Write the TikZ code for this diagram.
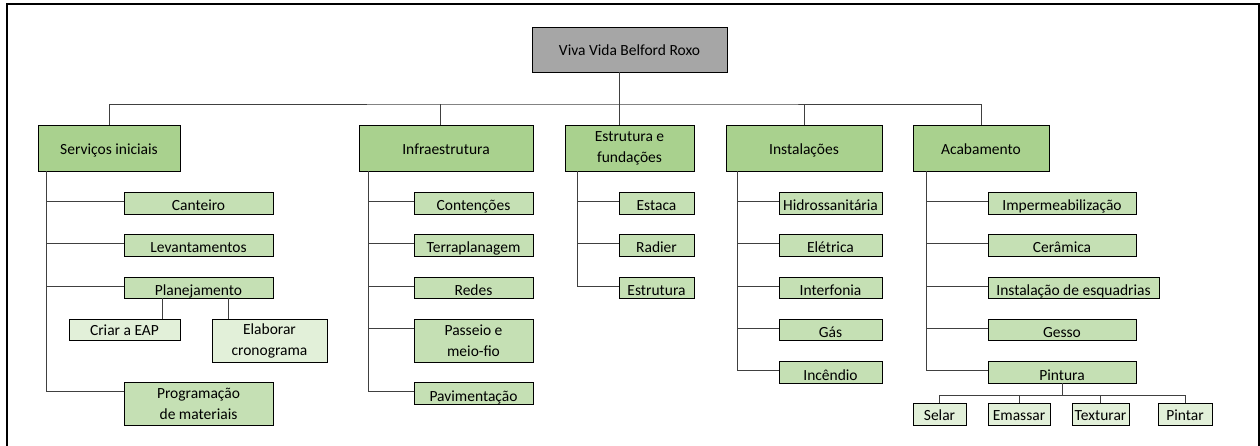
\documentclass[tikz,border=0pt]{standalone}
\usepackage{fontspec}
\setmainfont{Carlito}
\usepackage{tikz}
\usetikzlibrary{positioning}
\usetikzlibrary{calc}
\definecolor{rootgray}{HTML}{A6A6A6}
\definecolor{phasegreen}{HTML}{A9D18E}
\definecolor{taskgreen}{HTML}{C5E0B4}
\definecolor{subgreen}{HTML}{E2F0D9}
\definecolor{linkgray}{HTML}{404040}
\tikzset{box/.style={rectangle, draw, line width=0.8pt, inner sep=1pt, align=center, font=\fontsize{15.5}{21}\selectfont}}
\tikzset{rootbox/.style={box, fill=rootgray, minimum width=195pt, minimum height=45pt, text height=13pt, text depth=0pt}}
\tikzset{phasebox/.style={box, fill=phasegreen, minimum height=46pt}}
\tikzset{taskbox/.style={box, fill=taskgreen, minimum height=22pt}}
\tikzset{subbox/.style={box, fill=subgreen, minimum height=21pt}}
\tikzset{oneline/.style={text height=#1, text depth=0pt}}
\tikzset{linkline/.style={draw=linkgray, line width=0.8pt}}

\begin{document}
\begin{tikzpicture}[x=1pt, y=-1pt]
    \useasboundingbox (0,0) rectangle (1260,446);
    \draw[line width=2pt] (7,446) -- (7,4.3) -- (1258.8,4.3) -- (1258.8,446);

    % root and phases
    \node [rootbox] (vivaVida) at (629.5,49.5) {Viva Vida Belford Roxo};
    \node [phasebox, oneline=14pt, minimum width=142pt] (servicos) at (109,148) {Serviços iniciais};
    \node [phasebox, oneline=14pt, minimum width=174pt] (infra) at (446,148) {Infraestrutura};
    \node [phasebox, minimum width=129pt] (estruturaFund) at (629.5,148) {Estrutura e\\fundações};
    \node [phasebox, oneline=14pt, minimum width=156pt] (instalacoes) at (804,148) {Instalações};
    \node [phasebox, oneline=14pt, minimum width=136pt] (acabamento) at (981,148) {Acabamento};

    % servicos iniciais
    \node [taskbox, oneline=16pt, minimum width=149pt] (canteiro) at (198.5,203) {Canteiro};
    \node [taskbox, oneline=16pt, minimum width=149pt] (levantamentos) at (198.5,245) {Levantamentos};
    \node [taskbox, oneline=16pt, minimum width=149pt, minimum height=21pt] (planejamento) at (198.5,287.5) {Planejamento};
    \node [subbox, oneline=12pt, minimum width=111pt] (criarEap) at (124.5,329.5) {Criar a EAP};
    \node [subbox, minimum width=115pt, minimum height=43pt] (cronograma) at (269.5,340.5) {Elaborar\\cronograma};
    \node [taskbox, minimum width=149pt, minimum height=43pt] (programacao) at (198.5,403.5) {Programação\\de materiais};

    % infraestrutura
    \node [taskbox, oneline=16pt, minimum width=119pt] (contencoes) at (473.5,203) {Contenções};
    \node [taskbox, oneline=16pt, minimum width=119pt] (terraplanagem) at (473.5,245) {Terraplanagem};
    \node [taskbox, oneline=16pt, minimum width=119pt, minimum height=21pt] (redes) at (473.5,287.5) {Redes};
    \node [taskbox, minimum width=119pt, minimum height=43pt] (passeio) at (473.5,340.5) {Passeio e\\meio-fio};
    \node [taskbox, oneline=16pt, minimum width=119pt] (pavimentacao) at (473.5,393) {Pavimentação};

    % estrutura e fundacoes
    \node [taskbox, oneline=16pt, minimum width=75pt] (estaca) at (656.5,203) {Estaca};
    \node [taskbox, oneline=16pt, minimum width=75pt] (radier) at (656.5,245) {Radier};
    \node [taskbox, oneline=16pt, minimum width=75pt, minimum height=21pt] (estrutura) at (656.5,287.5) {Estrutura};

    % instalacoes
    \node [taskbox, oneline=16pt, minimum width=103pt] (hidro) at (830.5,203) {Hidrossanitária};
    \node [taskbox, oneline=16pt, minimum width=103pt] (eletrica) at (830.5,245) {Elétrica};
    \node [taskbox, oneline=16pt, minimum width=103pt, minimum height=21pt] (interfonia) at (830.5,287.5) {Interfonia};
    \node [taskbox, oneline=16pt, minimum width=103pt, minimum height=21pt] (gas) at (830.5,329.5) {Gás};
    \node [taskbox, oneline=16pt, minimum width=103pt] (incendio) at (830.5,372) {Incêndio};

    % acabamento
    \node [taskbox, oneline=16pt, minimum width=148pt] (impermeab) at (1062,203) {Impermeabilização};
    \node [taskbox, oneline=16pt, minimum width=148pt] (ceramica) at (1062,245) {Cerâmica};
    \node [taskbox, oneline=16pt, minimum width=171pt, minimum height=21pt] (esquadrias) at (1073.5,287.5) {Instalação de esquadrias};
    \node [taskbox, oneline=16pt, minimum width=148pt, minimum height=21pt] (gesso) at (1062,329.5) {Gesso};
    \node [taskbox, oneline=16pt, minimum width=148pt] (pintura) at (1062,372) {Pintura};
    \node [subbox, oneline=12pt, minimum width=53pt, minimum height=22pt] (selar) at (939.5,414) {Selar};
    \node [subbox, oneline=12pt, minimum width=62pt, minimum height=22pt] (emassar) at (1019,414) {Emassar};
    \node [subbox, oneline=12pt, minimum width=57pt, minimum height=22pt] (texturar) at (1100.5,414) {Texturar};
    \node [subbox, oneline=12pt, minimum width=54pt, minimum height=22pt] (pintar) at (1185,414) {Pintar};

    % top level links
    \coordinate (bus) at (619,104);
    \draw[linkline] ([xshift=-10.5pt]vivaVida.south) -- ([xshift=-10.5pt]estruturaFund.north);
    \draw[linkline] (servicos.north) |- (bus) -| (acabamento.north);
    \coordinate (infraTop) at ([xshift=-6pt]infra.north);
    \draw[linkline] (infraTop) -- (infraTop |- bus);
    \draw[linkline] (instalacoes.north) -- (instalacoes.north |- bus);

    % trunks
    \coordinate (servicosTrunk) at ([xshift=9pt]servicos.south west);
    \coordinate (infraTrunk) at ([xshift=10pt]infra.south west);
    \coordinate (estruturaTrunk) at ([xshift=13pt]estruturaFund.south west);
    \coordinate (instalacoesTrunk) at ([xshift=12pt]instalacoes.south west);
    \coordinate (acabamentoTrunk) at ([xshift=14pt]acabamento.south west);

    \draw[linkline] (servicosTrunk) |- ([yshift=-10pt]programacao.north west);
    \foreach \kid in {canteiro, levantamentos, planejamento}
        \draw[linkline] ([yshift=-9.5pt]\kid.north west) -| (servicosTrunk);
    \draw[linkline] (infraTrunk) |- ([yshift=-9.5pt]pavimentacao.north west);
    \foreach \kid in {contencoes, terraplanagem, redes, passeio}
        \draw[linkline] ([yshift=-9.5pt]\kid.north west) -| (infraTrunk);
    \draw[linkline] (estruturaTrunk) |- ([yshift=-9.5pt]estrutura.north west);
    \foreach \kid in {estaca, radier}
        \draw[linkline] ([yshift=-9.5pt]\kid.north west) -| (estruturaTrunk);
    \draw[linkline] (instalacoesTrunk) |- ([yshift=-9.5pt]incendio.north west);
    \foreach \kid in {hidro, eletrica, interfonia, gas}
        \draw[linkline] ([yshift=-9.5pt]\kid.north west) -| (instalacoesTrunk);
    \draw[linkline] (acabamentoTrunk) |- ([yshift=-9.5pt]pintura.north west);
    \foreach \kid in {impermeab, ceramica, esquadrias, gesso}
        \draw[linkline] ([yshift=-9.5pt]\kid.north west) -| (acabamentoTrunk);

    % planejamento and pintura
    \coordinate (criarTop) at ([xshift=-18pt]criarEap.north east);
    \coordinate (cronogramaTop) at ([xshift=17pt]cronograma.north west);
    \draw[linkline] (criarTop) -- (criarTop |- planejamento.south);
    \draw[linkline] (cronogramaTop) -- (cronogramaTop |- planejamento.south);
    \coordinate (pinturaBus) at ([yshift=-12pt]pintura.south);
    \draw[linkline] (pintura.south) -- (pinturaBus);
    \draw[linkline] (selar.north) |- (pinturaBus) -| (pintar.north);
    \foreach \kid in {emassar, texturar}
        \draw[linkline] (\kid.north) -- (\kid.north |- pinturaBus);
\end{tikzpicture}
\end{document}
